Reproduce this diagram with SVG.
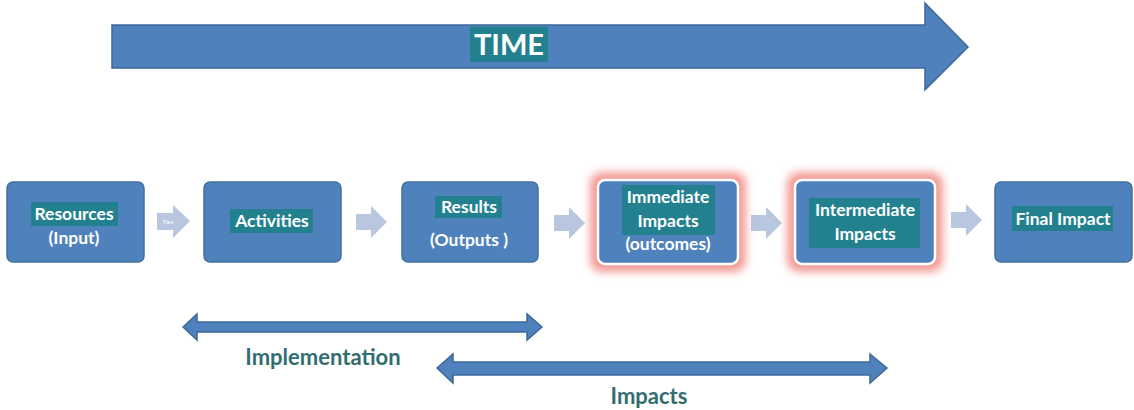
<svg xmlns="http://www.w3.org/2000/svg" width="1134" height="410" viewBox="0 0 1134 410">
<defs>
<filter id="glow" x="-30%" y="-30%" width="160%" height="160%"><feGaussianBlur stdDeviation="4"/></filter>
<linearGradient id="lbl" x1="0" y1="0" x2="0" y2="1"><stop offset="0" stop-color="#3a6f86"/><stop offset="1" stop-color="#2b6b5e"/></linearGradient>
</defs>
<style>
.box{fill:#4f81bd;stroke:#41709f;stroke-width:1.5}
.hl{fill:#23818f}
.t{font-family:Lato,"Liberation Sans",sans-serif;font-weight:bold;font-size:17.5px;fill:#ffffff;text-anchor:middle}
.chev{fill:#b8c7df}
.big{fill:#4f81bd;stroke:#3e6897;stroke-width:1.5}
.lab{font-family:Lato,"Liberation Sans",sans-serif;font-weight:bold;font-size:22px;fill:url(#lbl);text-anchor:middle}
.gl{fill:#f29b94;filter:url(#glow)}
</style>
<rect width="1134" height="410" fill="#ffffff"/>
<g id="time">
<path class="big" d="M112,25 H925 V3 L968,47 L925,90 V68 H112 Z"/>
<rect class="hl" x="470" y="27" width="78" height="35"/>
<text class="t" x="509" y="55" style="font-size:29px">TIME</text>
</g>
<g id="connectors">
<path class="chev" d="M157,213 H173 V205 L190,221 L173,238 V230 H157 Z"/>
<text x="168" y="224" style="font-family:'Liberation Sans',sans-serif;font-size:6px;fill:#ffffff;text-anchor:middle">Ties</text>
<path class="chev" d="M356,214 H371 V206 L387,222 L371,238 V230 H356 Z"/>
<path class="chev" d="M554,215 H569 V207 L585,223 L569,239 V231 H554 Z"/>
<path class="chev" d="M751,215 H766 V207 L782,223 L766,239 V231 H751 Z"/>
<path class="chev" d="M951,212 H966 V204 L982,220 L966,236 V228 H951 Z"/>
</g>
<g id="resources">
<rect class="box" x="7" y="182" width="137" height="80" rx="6"/>
<rect class="hl" x="31" y="202" width="87" height="24"/>
<text class="t" x="74" y="220">Resources</text>
<text class="t" x="74" y="244">(Input)</text>
</g>
<g id="activities">
<rect class="box" x="204" y="182" width="137" height="80" rx="6"/>
<rect class="hl" x="230" y="209" width="83" height="24"/>
<text class="t" x="272" y="227">Activities</text>
</g>
<g id="results">
<rect class="box" x="402" y="182" width="136" height="80" rx="6"/>
<rect class="hl" x="435" y="196" width="67" height="22"/>
<text class="t" x="469" y="213">Results</text>
<text class="t" x="469" y="246">(Outputs )</text>
</g>
<g id="immediate">
<rect class="gl" x="590" y="172" width="156" height="100" rx="12"/>
<rect class="box" x="598" y="180" width="140" height="84" rx="7" style="stroke:#ffffff;stroke-width:2.5"/>
<rect class="hl" x="622" y="185" width="93" height="50"/>
<text class="t" x="668" y="203">Immediate</text>
<text class="t" x="668" y="227">Impacts</text>
<text class="t" x="668" y="250">(outcomes)</text>
</g>
<g id="intermediate">
<rect class="gl" x="787" y="172" width="156" height="100" rx="12"/>
<rect class="box" x="795" y="180" width="140" height="84" rx="7" style="stroke:#ffffff;stroke-width:2.5"/>
<rect class="hl" x="809" y="198" width="111" height="50"/>
<text class="t" x="865" y="216">Intermediate</text>
<text class="t" x="865" y="240">Impacts</text>
</g>
<g id="final">
<rect class="box" x="995" y="182" width="137" height="80" rx="6"/>
<rect class="hl" x="1012" y="206" width="101" height="25"/>
<text class="t" x="1063" y="225">Final Impact</text>
</g>
<g id="implementation">
<path class="big" d="M183,327 L197,314 V322 H527 V314 L542,327 L527,340 V332 H197 V340 Z"/>
<text class="lab" x="323" y="365">Implementation</text>
</g>
<g id="impacts">
<path class="big" d="M437,368 L453,354 V362 H870 V354 L887,368 L870,383 V375 H453 V383 Z"/>
<text class="lab" x="649" y="404">Impacts</text>
</g>
</svg>
